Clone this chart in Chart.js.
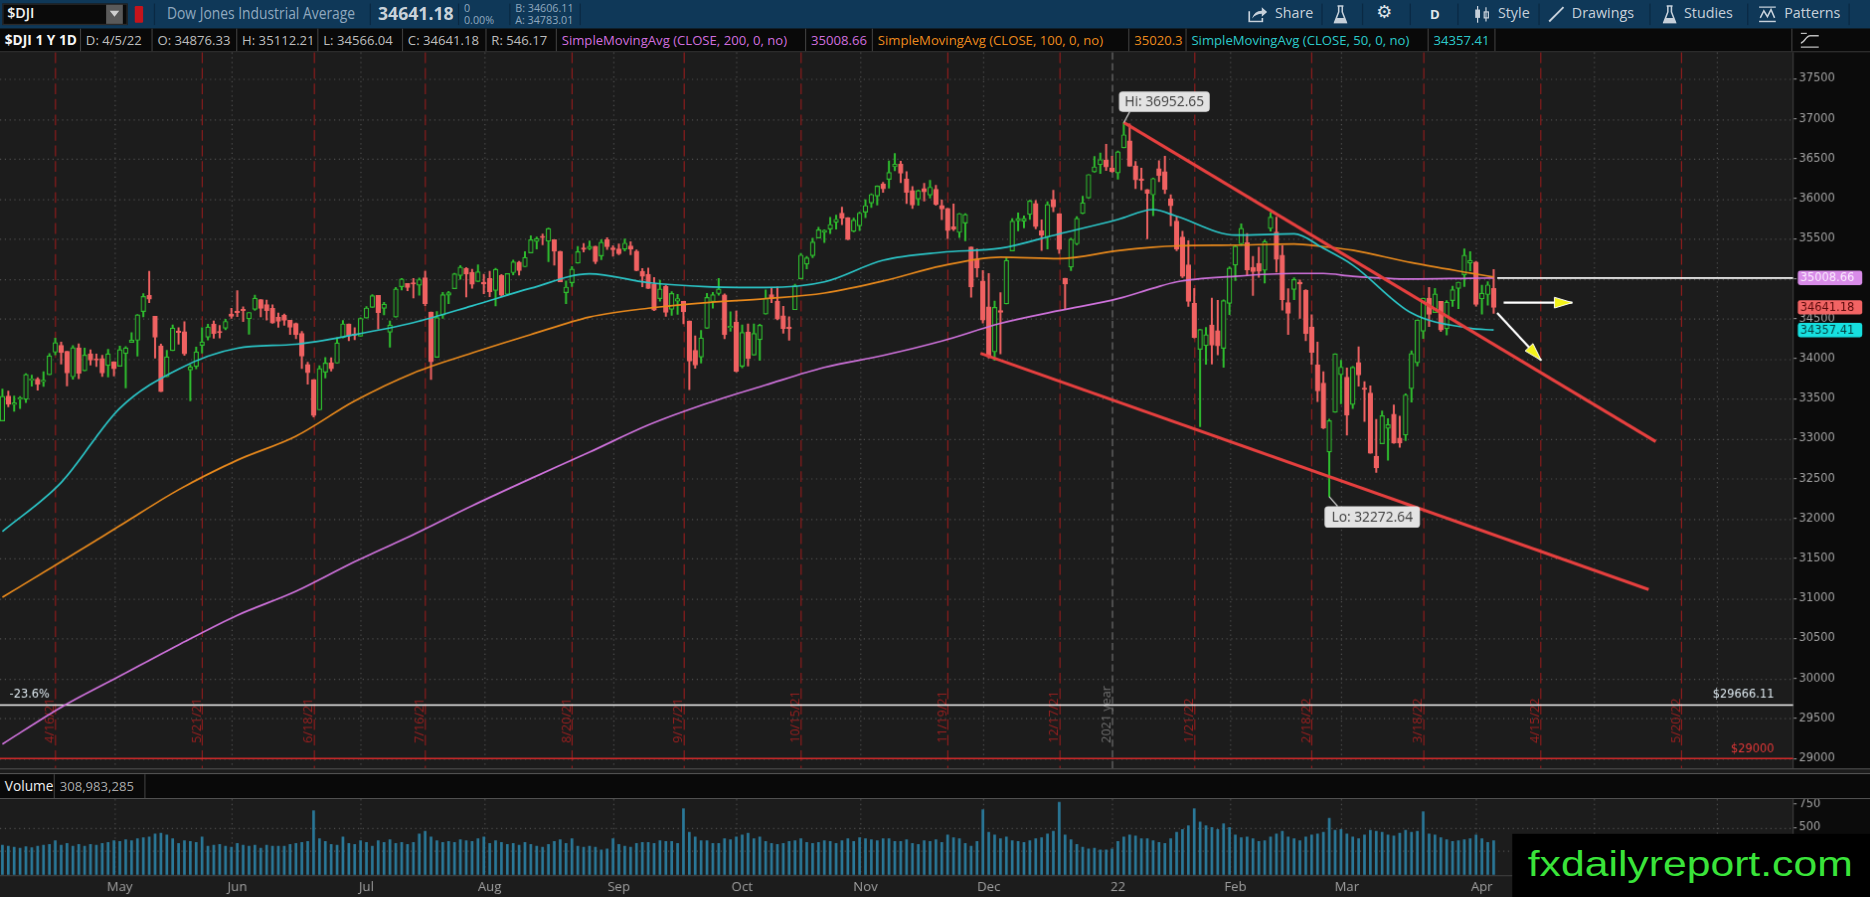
<!DOCTYPE html>
<html lang="en"><head><meta charset="utf-8"><title>$DJI 1 Y 1D</title>
<script src="https://cdn.jsdelivr.net/npm/chart.js@4.4.1/dist/chart.umd.min.js"></script>
<style>
html,body{margin:0;padding:0;width:1870px;height:897px;overflow:hidden;background:#1c1c1c}
#root{position:absolute;left:0;top:0;width:1568px;height:752px;transform-origin:0 0;transform:scale(1.19260,1.19282);font-family:'Open Sans',sans-serif;background:#1c1c1c;overflow:hidden}
.a{position:absolute;white-space:nowrap;line-height:1}
.fit{transform-origin:0 0}
#tb{left:0;top:0;width:1568px;height:24px;background:#0f3858}
.tt{color:#c6d0da;font-size:12px;top:5px}
.sep{position:absolute;top:3px;width:1px;height:18px;background:#0a2943}
#lg{left:0;top:24px;width:1568px;height:20px;background:#090909;border-bottom:1px solid #3b3b3b;box-sizing:border-box}
.c{position:absolute;top:0;height:19px;line-height:19px;font-size:11px;color:#bdbdbd;padding-left:4px;box-sizing:border-box;border-right:1px solid #3b3b3b;white-space:nowrap;overflow:hidden}
#pw{left:0;top:44px;width:1568px;height:600px}
#vw{left:0;top:670px;width:1568px;height:82px}
#vh{left:0;top:648px;width:1568px;height:22px;background:#090909;border-top:1px solid #505050;border-bottom:1px solid #505050;box-sizing:border-box}
#logo{left:1268px;top:699px;width:300px;height:53px;background:#000}
#logoText{position:absolute;left:13px;top:9.6px;font-family:'Liberation Sans Narrow','Liberation Sans',Arial,sans-serif;font-size:30px;line-height:30px;color:#3ae43a;white-space:nowrap;transform-origin:0 0}
</style></head>
<body>
<div id="root">
  <!-- toolbar -->
  <div id="tb" class="a">
    <div class="a" style="left:2px;top:3px;width:105px;height:18px;background:#0a0a0a;border:1px solid #2a2a2a;box-sizing:border-box"></div>
    <div class="a" style="left:6px;top:5px;font-size:12px;font-weight:600;color:#f2f2f2">$DJI</div>
    <div class="a" style="left:89px;top:4px;width:14px;height:16px;background:#5a5a5a"></div>
    <div class="a" style="left:92px;top:9px;width:0;height:0;border-left:4px solid transparent;border-right:4px solid transparent;border-top:5px solid #cfcfcf"></div>
    <div class="a" style="left:113px;top:5px;width:7px;height:14px;background:#c4141c;border-radius:1px"></div>
    <div class="sep" style="left:129px"></div>
    <div class="a fit" data-w="158" style="left:140px;top:5px;font-size:13px;color:#8fa8bf">Dow Jones Industrial Average</div>
    <div class="sep" style="left:310px"></div>
    <div class="a fit" data-w="63" style="left:317px;top:4px;font-size:15px;font-weight:700;color:#c9d2da">34641.18</div>
    <div class="sep" style="left:384px"></div>
    <div class="a" style="left:389px;top:2px;font-size:9px;color:#8fa8bf">0</div>
    <div class="a" style="left:389px;top:12px;font-size:9px;color:#8fa8bf">0.00%</div>
    <div class="sep" style="left:427px"></div>
    <div class="a" style="left:432px;top:2px;font-size:9px;color:#8fa8bf">B: 34606.11</div>
    <div class="a" style="left:432px;top:12px;font-size:9px;color:#8fa8bf">A: 34783.01</div>
    <div class="sep" style="left:486px"></div>

    <svg class="a" style="left:1046px;top:5px" width="17" height="14" viewBox="0 0 17 14"><path d="M1.5 4.5v8.5h11v-3" stroke="#c6d0da" fill="none" stroke-width="1.4"/><path d="M4 10.5c1-4 4-6.5 8-6.5V1l4.5 4-4.5 4V6.5c-3 0-6 1.2-8 4z" fill="#c6d0da"/></svg>
    <div class="a tt" style="left:1069px">Share</div>
    <div class="sep" style="left:1108px"></div>
    <svg class="a" style="left:1118px;top:4px" width="12" height="16" viewBox="0 0 12 16"><path d="M3.5 1h5M4.5 1v5L1 15h10L7.5 6V1" stroke="#c6d0da" fill="none" stroke-width="1.3"/><path d="M2.5 11h7l1.3 3.5H1.2z" fill="#c6d0da"/></svg>
    <div class="sep" style="left:1142px"></div>
    <div class="a" style="left:1154px;top:3px;font-family:'DejaVu Sans';font-size:15px;color:#dfe5ea">⚙</div>
    <div class="sep" style="left:1182px"></div>
    <div class="a" style="left:1199px;top:6px;font-size:11px;font-weight:700;color:#dfe5ea">D</div>
    <div class="sep" style="left:1222px"></div>
    <svg class="a" style="left:1235px;top:4px" width="16" height="16" viewBox="0 0 16 16"><path d="M4 1v14M11 2v12" stroke="#c6d0da" stroke-width="1"/><rect x="2" y="4" width="4" height="7" fill="#c6d0da"/><rect x="9.5" y="6" width="3.5" height="5" fill="none" stroke="#c6d0da"/></svg>
    <div class="a tt" style="left:1256px">Style</div>
    <div class="sep" style="left:1290px"></div>
    <svg class="a" style="left:1298px;top:5px" width="14" height="14" viewBox="0 0 14 14"><path d="M1 13L13 1" stroke="#c6d0da" stroke-width="1.6"/></svg>
    <div class="a tt" style="left:1318px">Drawings</div>
    <div class="sep" style="left:1383px"></div>
    <svg class="a" style="left:1394px;top:4px" width="12" height="16" viewBox="0 0 12 16"><path d="M3.5 1h5M4.5 1v5L1 15h10L7.5 6V1" stroke="#c6d0da" fill="none" stroke-width="1.3"/><path d="M2.5 11h7l1.3 3.5H1.2z" fill="#c6d0da"/></svg>
    <div class="a tt" style="left:1412px">Studies</div>
    <div class="sep" style="left:1465px"></div>
    <svg class="a" style="left:1474px;top:5px" width="16" height="14" viewBox="0 0 16 14"><path d="M1 1h14M1 13h14" stroke="#c6d0da" stroke-width="1.2"/><path d="M2 10l3-6 3 5 3-6 3 7" stroke="#c6d0da" fill="none" stroke-width="1.3"/></svg>
    <div class="a tt" style="left:1496px">Patterns</div>
    <div class="sep" style="left:1550px"></div>
  </div>

  <!-- legend row -->
  <div id="lg" class="a">
    <div class="c" style="left:0;width:68px;color:#f5f5f5;font-weight:700;font-size:11.5px">$DJI 1 Y 1D</div>
    <div class="c" style="left:68px;width:60px">D: 4/5/22</div>
    <div class="c" style="left:128px;width:71px">O: 34876.33</div>
    <div class="c" style="left:199px;width:68px">H: 35112.21</div>
    <div class="c" style="left:267px;width:71px">L: 34566.04</div>
    <div class="c" style="left:338px;width:70px">C: 34641.18</div>
    <div class="c" style="left:408px;width:59px">R: 546.17</div>
    <div class="c" style="left:467px;width:209px;color:#cf6ede">SimpleMovingAvg (CLOSE, 200, 0, no)</div>
    <div class="c" style="left:676px;width:56px;color:#cf6ede">35008.66</div>
    <div class="c" style="left:732px;width:215px;color:#ec8a1d">SimpleMovingAvg (CLOSE, 100, 0, no)</div>
    <div class="c" style="left:947px;width:48px;color:#ec8a1d">35020.3</div>
    <div class="c" style="left:995px;width:203px;color:#2cc9c9">SimpleMovingAvg (CLOSE, 50, 0, no)</div>
    <div class="c" style="left:1198px;width:56px;color:#2cc9c9">34357.41</div>
    <div class="c" style="left:1254px;width:249px"></div>
    <svg class="a" style="left:1509px;top:3px" width="17" height="14" viewBox="0 0 17 14"><path d="M1 9c3 0 4-6 8-6h7M1 12.5h15" stroke="#bdbdbd" fill="none" stroke-width="1.2"/><path d="M1 1h5" stroke="#bdbdbd" stroke-width="1"/></svg>
  </div>

  <div id="pw" class="a"><canvas id="price" width="1568" height="600"></canvas></div>
  <div class="a" style="left:0;top:644px;width:1568px;height:1px;background:#505050"></div>
  <div id="vh" class="a">
    <div class="c" style="left:0;width:46px;height:20px;line-height:20px;color:#f0f0f0;font-size:11.5px">Volume</div>
    <div class="c" style="left:46px;width:76px;height:20px;line-height:20px;color:#a8a8a8;font-size:11px">308,983,285</div>
  </div>
  <div id="vw" class="a"><canvas id="vol" width="1568" height="82"></canvas></div>
  <div id="logo" class="a"><div id="logoText">fxdailyreport.com</div></div>
</div>

<script>
// ---------------- DATA ----------------
const holidays = ['2021-05-31','2021-07-05','2021-09-06','2021-11-25','2021-12-24','2022-01-17','2022-02-21','2022-04-15','2022-05-30','2022-06-20'];
const firstDate = '2021-04-05';

const opens = [
33222,33530,33426,33494,33491,33731,33742,33711,33799,34081,34165,34090,33773,34134,33849,34061,33987,34000,33914,33960,
33904,34064,34203,34230,34590,34791,34529,34157,33773,34102,34337,34337,33858,33901,34165,34270,34431,34337,34380,34558,
34584,34616,34498,34618,34736,34675,34630,34517,34540,34478,34439,34314,33927,33736,33360,33830,33949,33944,34264,34434,34305,34280,
34507,34642,34790,34629,34330,34521,34900,34939,34943,34919,35010,34583,34018,34546,34793,34876,35040,35130,35080,34966,34955,
35002,34853,35040,34805,35075,35206,35150,35323,35465,35519,35470,35485,35340,34825,34950,35196,35383,35376,35406,35286,35486,35384,
35371,35368,35410,35344,35091,35054,34928,34751,34902,34617,34718,34714,34470,34103,34019,34380,34715,34814,34797,34389,34455,
33905,34331,34045,34237,34559,34800,34719,34535,34392,34612,34998,35183,35287,35509,35580,35621,35704,35818,35764,35593,35661,
35833,35946,36033,36182,36241,36399,36434,36243,36103,35996,36127,36047,36118,35914,35877,35648,35579,35696,35396,35245,34970,
34646,34085,34600,34685,35348,35723,35719,35805,35939,35597,35520,35989,35812,35004,35147,35436,35816,36010,36336,36427,36480,36384,
36322,36636,36722,36409,36249,36113,36048,36375,36337,35996,35719,35520,35173,34692,34117,34164,34419,34349,34130,34691,
35170,35436,35450,35141,35191,35105,35628,35582,35292,34699,34866,34954,34851,34396,33921,33694,32834,33331,33800,
33767,33426,33950,33632,33568,32780,32936,33129,33304,33005,33045,33625,33949,34344,34755,34576,34715,34374,34726,34878,35049,35194,35208,
34749,34802,34876];
const highs = [
33619,33594,33531,33525,33810,33792,33762,33835,34062,34256,34205,34090,34163,34184,34132,34110,34058,34042,34117,33960,
34155,34150,34325,34550,34811,35091,34529,34182,34103,34420,34387,34460,33920,34144,34386,34431,34471,34413,34493,34628,
34849,34648,34577,34793,34738,34731,34672,34569,34558,34478,34444,34338,33955,33736,33912,34013,34011,34263,34477,34434,34385,34509,
34651,34800,34790,34704,34470,34889,35002,34939,35002,35008,35092,34583,34587,34828,34840,35066,35163,35139,35117,35171,35054,
35092,35128,35051,35065,35230,35216,35336,35535,35520,35558,35631,35485,35344,34970,35150,35403,35439,35470,35406,35487,35510,35412,
35433,35497,35461,35358,35127,35132,35014,34981,34913,34838,34801,34714,34470,34285,34353,34815,34826,35001,34808,34585,34593,
34419,34434,34433,34431,34857,34886,34895,34654,34523,34929,35316,35279,35504,35643,35611,35765,35795,35893,35764,35757,35830,
35986,36061,36161,36205,36472,36566,36467,36339,36150,36109,36193,36230,36167,35983,35877,35934,35817,35811,35396,35371,35102,
35063,34719,34824,35266,35749,35823,35783,35981,35977,35734,35961,36105,35812,35004,35505,35776,36031,36302,36528,36571,36679,36531,
36595,36952.65,36934,36464,36382,36113,36258,36476,36531,36050,35772,35592,35473,34877,34364,34388,34756,34729,34733,35147,
35420,35685,35565,35279,35393,35482,35824,35768,35413,34874,35010,34983,34860,34547,34207,33835,33241,34059,33980,
33883,33900,34148,33713,33660,33239,33345,33248,33421,33279,33560,34098,34481,34755,34888,34878,34717,34724,34906,34956,35372,35336,35217,
34919,34960,35112.21];
const lows = [
33220,33399,33342,33376,33450,33655,33605,33654,33799,34049,33932,33660,33743,33750,33849,33919,33903,33778,33771,33783,
33904,33634,34202,34033,34522,34700,34008,33587,33773,34102,34182,34043,33473,33873,34069,34233,34256,34260,34363,34504,
34525,34465,34305,34603,34524,34483,34443,34392,34417,34303,34251,33877,33682,33272,33360,33759,33846,33944,34260,34225,34236,34280,
34507,34642,34372,34549,34145,34521,34859,34850,34758,34795,34663,33741,34018,34504,34689,34876,34993,34772,34881,34966,34813,
34776,34661,34779,34792,35047,35046,35150,35323,35373,35424,35214,35171,34961,34687,34901,35196,35334,35361,35187,35239,35365,35281,
35301,35346,35299,35099,34900,34877,34600,34720,34530,34541,34555,34436,33614,33880,33944,34380,34631,34795,34251,34344,33833,
33885,33909,34045,33980,34559,34701,34487,34317,34231,34612,34998,35123,35263,35509,35451,35563,35621,35677,35486,35587,35602,
35762,35892,35922,36079,36134,36350,36202,35939,35879,35920,35973,36009,35918,35738,35502,35601,35515,35474,34768,35021,34445,
34006,33980,34061,34685,35348,35599,35635,35741,35624,35353,35373,35837,35316,34613,35100,35424,35814,36010,36333,36315,36355,36332,
36246,36636,36407,36128,36111,35498,35787,36215,36064,35661,35351,35014,34653,34259,33150,33931,33932,34047,33892,34552,
34978,35415,35035,34792,35018,34946,35597,35083,34608,34302,34738,34504,34224,33931,33464,33126,32272.64,33331,33436,
33043,33375,33656,33215,32817,32578,32935,32731,32940,32891,32975,33456,33907,34254,34401,34576,34341,34296,34654,34626,34903,35098,34658,
34557,34668,34566.04];
const closes = [
33527,33430,33446,33503,33801,33745,33677,33730,34035,34200,34077,33821,34137,33815,34043,33981,33984,33820,34060,33874,
34113,34133,34230,34548,34778,34743,34270,33587,34021,34382,34327,34061,33896,34084,34208,34394,34312,34323,34465,34529,
34575,34600,34577,34756,34630,34600,34447,34467,34480,34394,34299,34033,33823,33290,33877,33945,33874,34196,34434,34283,34292,34502,
34633,34786,34577,34681,34421,34870,34996,34889,34933,34987,34687,33962,34512,34798,34823,35061,35144,35058,34930,35085,34935,
34838,35116,34793,35064,35209,35102,35265,35485,35500,35516,35625,35343,34961,34894,35120,35336,35367,35406,35214,35456,35400,35361,
35313,35444,35369,35100,35031,34879,34608,34870,34578,34814,34751,34585,33970,33919,34258,34765,34798,34870,34300,34391,33844,
34326,34003,34315,34417,34755,34746,34496,34378,34377,34912,35295,35259,35458,35609,35603,35677,35742,35757,35491,35731,35820,
35913,36053,36158,36124,36328,36432,36320,36079,35921,36100,36087,36143,35931,35871,35601,35619,35814,35804,34899,35136,34484,
34022,34640,34580,35227,35719,35754,35754,35971,35650,35544,35927,35898,35365,34932,35493,35754,35950,36302,36398,36488,36398,36338,
36585,36799,36407,36236,36231,36068,36252,36290,36113,35912,35368,35029,34715,34265,34364,34298,34168,34160,34725,35132,
35405,35629,35111,35089,35091,35463,35768,35241,34738,34566,34988,34934,34312,34079,33596,33131,33224,34059,33893,
33294,33891,33795,33615,32818,32633,33286,33174,32944,32945,33545,34063,34481,34755,34553,34808,34358,34707,34862,34956,35294,35229,34678,
34818,34922,34641.18];
// volume, millions
const volumes = [
310,300,290,280,295,285,300,310,320,360,310,330,300,320,300,320,310,330,340,360,
350,370,360,380,390,400,430,440,420,380,330,360,350,340,400,300,310,320,300,290,
330,310,300,310,280,310,300,300,300,320,330,340,350,680,380,350,320,310,400,330,320,360,
340,300,360,340,370,330,340,320,340,430,460,400,360,340,350,340,370,360,350,380,400,
330,360,340,320,330,310,340,320,300,290,320,350,370,330,380,300,290,300,290,260,270,380,
320,300,290,330,340,340,330,360,350,350,330,700,450,400,360,360,330,330,380,370,400,
420,440,380,400,350,330,320,330,350,360,380,340,330,340,360,350,330,360,380,350,390,
380,370,360,380,380,350,350,370,330,320,360,350,370,340,420,390,380,330,300,350,690,
450,420,380,400,360,350,340,360,380,390,430,460,770,420,370,320,290,270,280,260,260,270,
350,400,420,410,380,380,360,340,330,380,450,480,520,700,560,520,500,480,540,500,
420,390,400,380,350,360,400,430,460,400,380,360,400,420,430,450,600,470,480,
430,400,380,420,470,460,450,420,410,440,470,450,460,670,430,420,390,370,350,360,370,380,420,
380,340,360];

// moving averages at sample bar indices
const maIdx  = [0,10,20,30,40,50,60,70,80,90,100,110,120,130,140,150,160,170,180,190,196,200,210,220,225,230,240,250,254];
const sma50  = [31838,32450,33380,33870,34130,34180,34300,34450,34660,34880,35060,34950,34900,34890,34960,35230,35330,35380,35560,35740,35864,35780,35545,35560,35380,35170,34570,34380,34357.41];
const sma100 = [31016,31460,31910,32360,32730,33030,33470,33820,34070,34300,34520,34630,34700,34750,34820,34970,35160,35270,35250,35350,35393,35410,35420,35433,35400,35355,35200,35070,35020.3];
const sma200 = [29180,29640,30030,30420,30790,31090,31460,31800,32160,32500,32830,33170,33440,33670,33890,34040,34220,34440,34600,34750,34880,34960,35030,35065,35065,35030,34995,35005,35008.66];

const lastClose = 34641.18, lastSma200 = 35008.66, lastSma50 = 34357.41;
const hiIdx = 191, hiVal = 36952.65;
const loIdx = 226, loVal = 32272.64;
const fib236 = 29666.11, support = 29000;

// drawings (bar index, price)
const trendUpper = [[191, 36952.65], [281.6, 32962]];
const trendLower = [[166.6, 34066], [280.4, 31112]];
const arrowH = [[255.7, 34700], [267.4, 34700]];
const arrowD = [[254.6, 34572], [262.1, 33978]];
const sma200Ray = [[254.6, lastSma200], [400, lastSma200]];

const priceTicks = [29000,29500,30000,30500,31000,31500,32000,32500,33000,33500,34000,34500,35000,35500,36000,36500,37000,37500];
const volTicks = [250,500,750];
const monthKeys = ['2021-05','2021-06','2021-07','2021-08','2021-09','2021-10','2021-11','2021-12','2022-01','2022-02','2022-03','2022-04','2022-05','2022-06'];
const monthLabels = ['May','Jun','Jul','Aug','Sep','Oct','Nov','Dec','22','Feb','Mar','Apr','May','Jun'];
const expiryDates = ['2021-04-16','2021-05-21','2021-06-18','2021-07-16','2021-08-20','2021-09-17','2021-10-15','2021-11-19','2021-12-17','2022-01-21','2022-02-18','2022-03-18','2022-04-15','2022-05-20'];
const expiryLabels = ['4/16/21','5/21/21','6/18/21','7/16/21','8/20/21','9/17/21','10/15/21','11/19/21','12/17/21','1/21/22','2/18/22','3/18/22','4/15/22','5/20/22'];

// ---------------- calendar ----------------
function buildTradingDays(startISO, count) {
  const out = []; const d = new Date(startISO + 'T00:00:00Z');
  while (out.length < count) {
    const dow = d.getUTCDay(); const iso = d.toISOString().slice(0, 10);
    if (dow !== 0 && dow !== 6 && !holidays.includes(iso)) out.push(iso);
    d.setUTCDate(d.getUTCDate() + 1);
  }
  return out;
}
const days = buildTradingDays(firstDate, 320);
const monthIdx = monthKeys.map(k => days.findIndex(d => d.startsWith(k)));
const monthGridIdx = monthIdx.map(i => i - 1);
const expiryIdx = expiryDates.map(e => days.findIndex(d => d >= e));
const yearIdx = days.findIndex(d => d >= '2022-01-01') - 1;

// ---------------- layout constants ----------------
const X_MIN = -0.41, X_MAX = 305.0;
const P_MIN = 28877.7, P_MAX = 37828.2;
const V_MIN = -16.7, V_MAX = 803.8;
const GREEN = '#2fbf2f', RED = '#f06262', PANE = '#1c1c1c', AXISBG = '#0b0b0b';
const DPR = 1.2;

Chart.defaults.font.family = "'Open Sans', sans-serif";

const pts = arr => arr.map(p => ({x: p[0], y: p[1]}));

function rr(ctx, x, y, w, h, r) {
  ctx.beginPath();
  ctx.moveTo(x + r, y); ctx.lineTo(x + w - r, y); ctx.quadraticCurveTo(x + w, y, x + w, y + r);
  ctx.lineTo(x + w, y + h - r); ctx.quadraticCurveTo(x + w, y + h, x + w - r, y + h);
  ctx.lineTo(x + r, y + h); ctx.quadraticCurveTo(x, y + h, x, y + h - r);
  ctx.lineTo(x, y + r); ctx.quadraticCurveTo(x, y, x + r, y); ctx.closePath();
}
function seg(ctx, x1, y1, x2, y2) { ctx.beginPath(); ctx.moveTo(x1, y1); ctx.lineTo(x2, y2); ctx.stroke(); }
function noPad(s) { s.paddingTop = 0; s.paddingBottom = 0; s.paddingLeft = 0; s.paddingRight = 0; }

const paneBg = {
  id: 'paneBg',
  beforeDraw(chart) {
    const {ctx, chartArea: a, width, height} = chart;
    ctx.save();
    ctx.fillStyle = PANE; ctx.fillRect(0, 0, width, height);
    ctx.fillStyle = AXISBG; ctx.fillRect(a.right, 0, width - a.right, height);
    ctx.restore();
  }
};

const priceDecor = {
  id: 'priceDecor',
  beforeDatasetsDraw(chart) {
    const {ctx, chartArea: a, scales: {x, y}} = chart;
    ctx.save();
    ctx.beginPath(); ctx.rect(a.left, a.top, a.right - a.left, a.bottom - a.top); ctx.clip();
    ctx.lineWidth = 1; ctx.strokeStyle = '#4f4f4f'; ctx.setLineDash([1, 3]);
    priceTicks.forEach(v => { const py = Math.round(y.getPixelForValue(v)) + 0.5; seg(ctx, a.left, py, a.right, py); });
    monthGridIdx.forEach(i => { if (i === yearIdx) return; const px = Math.round(x.getPixelForValue(i)) + 0.5; seg(ctx, px, a.top, px, a.bottom); });
    // expiration lines
    ctx.setLineDash([9, 4]); ctx.strokeStyle = '#8e1d1d';
    ctx.font = "10.5px 'Open Sans'"; ctx.fillStyle = '#9a2020'; ctx.textAlign = 'left'; ctx.textBaseline = 'alphabetic';
    expiryIdx.forEach((ix, k) => {
      const px = Math.round(x.getPixelForValue(ix)) + 0.5;
      seg(ctx, px, a.top, px, a.bottom);
      ctx.save(); ctx.translate(px - 1.5, a.bottom - 21); ctx.rotate(-Math.PI / 2); ctx.fillText(expiryLabels[k], 0, 0); ctx.restore();
    });
    // year separator
    const yx = Math.round(x.getPixelForValue(yearIdx)) + 0.5;
    ctx.setLineDash([6, 3]); ctx.strokeStyle = '#6e6e6e'; seg(ctx, yx, a.top, yx, a.bottom);
    ctx.fillStyle = '#707070';
    ctx.save(); ctx.translate(yx - 1.5, a.bottom - 21); ctx.rotate(-Math.PI / 2); ctx.fillText('2021 year', 0, 0); ctx.restore();
    ctx.restore();
  },
  afterDatasetsDraw(chart) {
    const {ctx, chartArea: a, scales: {x, y}} = chart;
    ctx.save();
    // arrow heads
    [arrowH, arrowD].forEach(ar => {
      const x0 = x.getPixelForValue(ar[0][0]), y0 = y.getPixelForValue(ar[0][1]);
      const x1 = x.getPixelForValue(ar[1][0]), y1 = y.getPixelForValue(ar[1][1]);
      const L = Math.hypot(x1 - x0, y1 - y0), dx = (x1 - x0) / L, dy = (y1 - y0) / L;
      const hl = 15, hw = 4.5, bx = x1 - dx * hl, by = y1 - dy * hl;
      ctx.beginPath(); ctx.moveTo(x1, y1); ctx.lineTo(bx - dy * hw, by + dx * hw); ctx.lineTo(bx + dy * hw, by - dx * hw); ctx.closePath();
      ctx.fillStyle = '#f4f41a'; ctx.fill(); ctx.lineWidth = 0.8; ctx.strokeStyle = '#ffffff'; ctx.stroke();
    });
    // Hi / Lo bubbles
    ctx.font = "11.5px 'Open Sans'"; ctx.textAlign = 'center'; ctx.textBaseline = 'middle';
    let px = x.getPixelForValue(hiIdx), py = y.getPixelForValue(hiVal);
    let bx = px - 4, by = py - 26, w = 76, h = 17;
    ctx.strokeStyle = '#cfcfcf'; ctx.lineWidth = 1; ctx.setLineDash([]); seg(ctx, px + 5, by + h, px, py);
    ctx.fillStyle = '#e3e3e3'; rr(ctx, bx, by, w, h, 3); ctx.fill();
    ctx.fillStyle = '#3c3c3c'; ctx.fillText('Hi: ' + hiVal.toFixed(2), bx + w / 2, by + h / 2 + 0.5);
    px = x.getPixelForValue(loIdx); py = y.getPixelForValue(loVal);
    bx = px - 4; by = py + 8; w = 80; h = 18;
    seg(ctx, px, py, px + 7, by);
    ctx.fillStyle = '#e3e3e3'; rr(ctx, bx, by, w, h, 3); ctx.fill();
    ctx.fillStyle = '#3c3c3c'; ctx.fillText('Lo: ' + loVal.toFixed(2), bx + w / 2, by + h / 2 + 0.5);
    // level captions
    ctx.textBaseline = 'alphabetic'; ctx.font = "9.5px 'DejaVu Sans'";
    const fy = y.getPixelForValue(fib236);
    ctx.fillStyle = '#dde8ef'; ctx.textAlign = 'left'; ctx.fillText('-23.6%', a.left + 8, fy - 6);
    ctx.textAlign = 'right'; ctx.fillText('$' + fib236.toFixed(2), a.right - 16, fy - 6);
    ctx.fillStyle = '#e03838'; ctx.fillText('$' + support, a.right - 16, y.getPixelForValue(support) - 5);
    ctx.restore();
  },
  afterDraw(chart) {
    const {ctx, chartArea: a, scales: {y}} = chart;
    ctx.save();
    ctx.font = "9.5px 'DejaVu Sans'"; ctx.textAlign = 'left'; ctx.textBaseline = 'middle';
    [[lastSma200, '#d98ce9', '#fbeefe'], [lastClose, '#f26464', '#5a0b0b'], [lastSma50, '#17e0e0', '#063f3f']].forEach(t => {
      const py = y.getPixelForValue(t[0]);
      ctx.fillStyle = t[1]; rr(ctx, a.right + 4, py - 6, 54, 12, 2); ctx.fill();
      ctx.fillStyle = t[2]; ctx.fillText(t[0].toFixed(2), a.right + 6, py + 0.5);
    });
    ctx.restore();
  }
};

const candleUp = closes.map((c, i) => c >= opens[i]);
const candleColor = candleUp.map(u => u ? GREEN : RED);
const bodyFill = candleUp.map(u => u ? PANE : RED);

const lineDs = (data, color, width, extra) => Object.assign({type: 'line', data: data, borderColor: color, borderWidth: width, pointRadius: 0, fill: false}, extra || {});

new Chart(document.getElementById('price'), {
  type: 'bar',
  data: {
    datasets: [
      lineDs(pts(arrowH), '#ffffff', 1.8),
      lineDs(pts(arrowD), '#ffffff', 1.8),
      lineDs(pts(sma200Ray), '#ffffff', 1.5),
      lineDs(pts(trendUpper), '#e6403f', 2.6),
      lineDs(pts(trendLower), '#e6403f', 2.6),
      lineDs(maIdx.map((v, k) => ({x: v, y: sma50[k]})), '#2bc5c7', 1.4, {cubicInterpolationMode: 'monotone'}),
      lineDs(maIdx.map((v, k) => ({x: v, y: sma100[k]})), '#e8891c', 1.4, {cubicInterpolationMode: 'monotone'}),
      lineDs(maIdx.map((v, k) => ({x: v, y: sma200[k]})), '#cf72dc', 1.4, {cubicInterpolationMode: 'monotone'}),
      {type: 'bar', data: closes.map((c, i) => ({x: i, y: [opens[i], c]})), backgroundColor: bodyFill, borderColor: candleColor,
       borderWidth: 1, borderSkipped: false, barThickness: 3.8, grouped: false, minBarLength: 1},
      {type: 'bar', data: closes.map((c, i) => ({x: i, y: [lows[i], highs[i]]})), backgroundColor: candleColor,
       borderWidth: 0, barThickness: 1, grouped: false},
      lineDs([{x: X_MIN - 5, y: fib236}, {x: X_MAX + 5, y: fib236}], '#f2f2f2', 1.3),
      lineDs([{x: X_MIN - 5, y: support}, {x: X_MAX + 5, y: support}], '#d42a2a', 1.3)
    ]
  },
  options: {
    responsive: false, animation: false, devicePixelRatio: DPR, events: [],
    layout: {padding: 0},
    plugins: {legend: {display: false}, tooltip: {enabled: false}},
    scales: {
      x: {type: 'linear', min: X_MIN, max: X_MAX, offset: false, display: false},
      y: {position: 'right', min: P_MIN, max: P_MAX,
          afterBuildTicks: s => { s.ticks = priceTicks.map(v => ({value: v})); },
          afterFit: s => { s.width = 65; noPad(s); },
          ticks: {color: '#a3a3a3', font: {family: 'DejaVu Sans', size: 9.5}, padding: 2, callback: v => String(v)},
          grid: {drawOnChartArea: false, drawTicks: true, tickLength: 3, color: '#8a8a8a'},
          border: {display: true, color: '#3a3a3a'}}
    }
  },
  plugins: [paneBg, priceDecor]
});

const volDecor = {
  id: 'volDecor',
  beforeDatasetsDraw(chart) {
    const {ctx, chartArea: a, scales: {x, y}} = chart;
    ctx.save();
    ctx.beginPath(); ctx.rect(a.left, a.top, a.right - a.left, a.bottom - a.top); ctx.clip();
    ctx.lineWidth = 1; ctx.strokeStyle = '#4f4f4f'; ctx.setLineDash([1, 3]);
    [250, 500].forEach(v => { const py = Math.round(y.getPixelForValue(v)) + 0.5; seg(ctx, a.left, py, a.right, py); });
    monthGridIdx.forEach(i => { const px = Math.round(x.getPixelForValue(i)) + 0.5; seg(ctx, px, a.top, px, a.bottom); });
    ctx.restore();
  }
};

new Chart(document.getElementById('vol'), {
  type: 'bar',
  data: {datasets: [{data: volumes.map((v, i) => ({x: i, y: v})), backgroundColor: '#2a7898', barThickness: 1.6, grouped: false}]},
  options: {
    responsive: false, animation: false, devicePixelRatio: DPR, events: [],
    layout: {padding: 0},
    plugins: {legend: {display: false}, tooltip: {enabled: false}},
    scales: {
      x: {type: 'linear', min: X_MIN, max: X_MAX, offset: false,
          afterBuildTicks: s => { s.ticks = monthIdx.map(v => ({value: v})); },
          afterFit: s => { s.height = 18; noPad(s); },
          ticks: {autoSkip: false, maxRotation: 0, color: '#a0a0a0', font: {family: 'Open Sans', size: 11}, padding: 3, callback: (v, i) => monthLabels[i]},
          grid: {drawOnChartArea: false, drawTicks: false}, border: {display: true, color: '#3a3a3a'}},
      y: {position: 'right', min: V_MIN, max: V_MAX,
          afterBuildTicks: s => { s.ticks = volTicks.map(v => ({value: v})); },
          afterFit: s => { s.width = 65; noPad(s); },
          ticks: {color: '#a3a3a3', font: {family: 'DejaVu Sans', size: 9.5}, padding: 2, callback: v => String(v)},
          grid: {drawOnChartArea: false, drawTicks: true, tickLength: 3, color: '#8a8a8a'},
          border: {display: true, color: '#3a3a3a'}}
    }
  },
  plugins: [paneBg, volDecor]
});

// fit a few text runs horizontally to their measured widths
document.querySelectorAll('.fit').forEach(el => {
  const k = parseFloat(el.dataset.w) / el.offsetWidth;
  el.style.transform = 'scaleX(' + k.toFixed(3) + ')';
});
const lt = document.getElementById('logoText');
lt.style.transform = 'scaleX(' + (272 / lt.offsetWidth).toFixed(3) + ')';
</script>
</body></html>
